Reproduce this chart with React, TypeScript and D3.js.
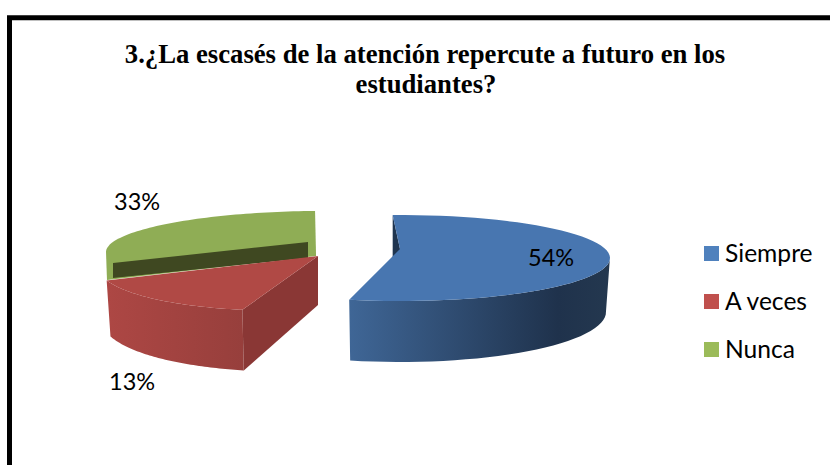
import React from "react";
import * as d3 from "d3";

const titleLines = ["3.¿La escasés de la atención repercute a futuro en los", "estudiantes?"];
const categories = ["Siempre", "A veces", "Nunca"];
const values = [54, 13, 33];
const labels = ["54%", "13%", "33%"];
const legendColors = ["#4f81bd", "#c0504d", "#9bbb59"];

const W = 830, H = 465;
const rad = (d: number) => (d * Math.PI) / 180;
type Geo = { ax: number; ay: number; cx: number; cy: number; rx: number; ryB: number; ryF: number; sh: number; from: number; to: number };
// exploded, foreshortened 3D placement of each slice
const geo: Geo[] = [
  { ax: 400, ay: 249, cx: 400, cy: 258, rx: 210, ryB: 43, ryF: 43, sh: 0, from: -2, to: 194 },
  { ax: 318, ay: 256, cx: 318, cy: 256, rx: 221, ryB: 54, ryF: 54, sh: -9, from: 200, to: 253 },
  { ax: 308, ay: 242, cx: 308, cy: 249, rx: 202, ryB: 38, ryF: 38, sh: -3, from: 270, to: 362 },
];

const pie = d3.pie<number>().sort(null).startAngle(rad(-2)).endAngle(rad(358));
const arcs = pie(values);

function project(g: Geo, deg: number): [number, number] {
  const u = Math.sin(rad(deg)), v = Math.cos(rad(deg));
  return [g.cx + g.rx * u, g.cy - (v > 0 ? g.ryB : g.ryF) * v + g.sh * u];
}
const depthAt = (deg: number) => 54 - 7 * Math.cos(rad(deg));

function rim(i: number): { deg: number; p: [number, number] }[] {
  const g = geo[i];
  const a = arcs[i];
  const sc = d3.scaleLinear().domain([a.startAngle, a.endAngle]).range([g.from, g.to]);
  return d3.range(0, 61).map((k) => {
    const deg = sc(a.startAngle + ((a.endAngle - a.startAngle) * k) / 60);
    return { deg, p: project(g, deg) };
  });
}
const line = d3.line();
const closed = (pts: [number, number][]) => (line(pts) as string) + "Z";
const lower = (d: { deg: number; p: [number, number] }): [number, number] => [
  d.p[0] - 4 * Math.sin(rad(d.deg)),
  d.p[1] + depthAt(d.deg),
];

export default function App() {
  const [blue, red, green] = [rim(0), rim(1), rim(2)];
  const bApex: [number, number] = [geo[0].ax, geo[0].ay];
  const rApex: [number, number] = [geo[1].ax, geo[1].ay];
  const gApex: [number, number] = [geo[2].ax, geo[2].ay];
  const ribbon = (r: typeof blue) => {
    const front = r.filter((d) => d.deg >= 90);
    return closed([...front.map((d) => d.p), ...front.slice().reverse().map(lower)]);
  };
  const bFirst = blue[0].p;
  const rFirst = red[0];
  const gLeft = green[0].p;
  const gRight = green[60].p;
  const gInner: [number, number] = [gLeft[0] + 7, gLeft[1] + 11];

  return (
    <svg width={W} height={H} style={{ position: "fixed", left: 0, top: 0, background: "#fff" }}>
      <defs>
        <linearGradient id="bw" gradientUnits="userSpaceOnUse" x1="350" x2="610" y1="0" y2="0">
          <stop offset="0" stopColor="#3f6696" />
          <stop offset="0.8" stopColor="#1f324c" />
          <stop offset="1" stopColor="#24384f" />
        </linearGradient>
        <linearGradient id="rw" gradientUnits="userSpaceOnUse" x1="107" x2="243" y1="0" y2="0">
          <stop offset="0" stopColor="#ad4744" />
          <stop offset="1" stopColor="#973f3c" />
        </linearGradient>
      </defs>
      <path d="M9.5 465V17.7H830" fill="none" stroke="#000" strokeWidth={5} />
      <g fontFamily="'Liberation Serif'" fontWeight="bold" fontSize={26.7} textAnchor="middle" fill="#000">
        <text x={425} y={63}>{titleLines[0]}</text>
        <text x={426} y={93}>{titleLines[1]}</text>
      </g>

      {/* Nunca */}
      <path d={closed([...green.map((d) => d.p), [gRight[0] + 1, 256], [gLeft[0] + 1, 280]])} fill="#8fad55" />
      <path d={closed([gApex, gInner, [gInner[0], gInner[1] + 15], [gApex[0], gApex[1] + 16]])} fill="#3f4821" />

      {/* A veces */}
      <path d={ribbon(red)} fill="url(#rw)" />
      <path d={closed([rApex, rFirst.p, lower(rFirst), [rApex[0], rApex[1] + 49]])} fill="#8a3735" />
      <path d={closed([rApex, ...red.map((d) => d.p)])} fill="#b04945" />

      {/* Siempre */}
      <path d={closed([bFirst, bApex, [bApex[0], bApex[1] + 55], [bFirst[0], bFirst[1] + 55]])} fill="#1f3550" />
      <path d={ribbon(blue)} fill="url(#bw)" />
      <path d={closed([bApex, ...blue.map((d) => d.p)])} fill="#4876b0" />

      <g fontFamily="Lato" fontSize={23.5} fill="#000">
        <text x={528} y={266}>{labels[0]}</text>
        <text x={109} y={390}>{labels[1]}</text>
        <text x={114} y={210}>{labels[2]}</text>
      </g>
      {categories.map((c, i) => (
        <g key={c}>
          <rect x={704} y={246 + i * 48} width={15} height={15} fill={legendColors[i]} />
          <text x={725} y={262 + i * 48} fontFamily="Lato" fontSize={24.6} fill="#000">{c}</text>
        </g>
      ))}
    </svg>
  );
}
